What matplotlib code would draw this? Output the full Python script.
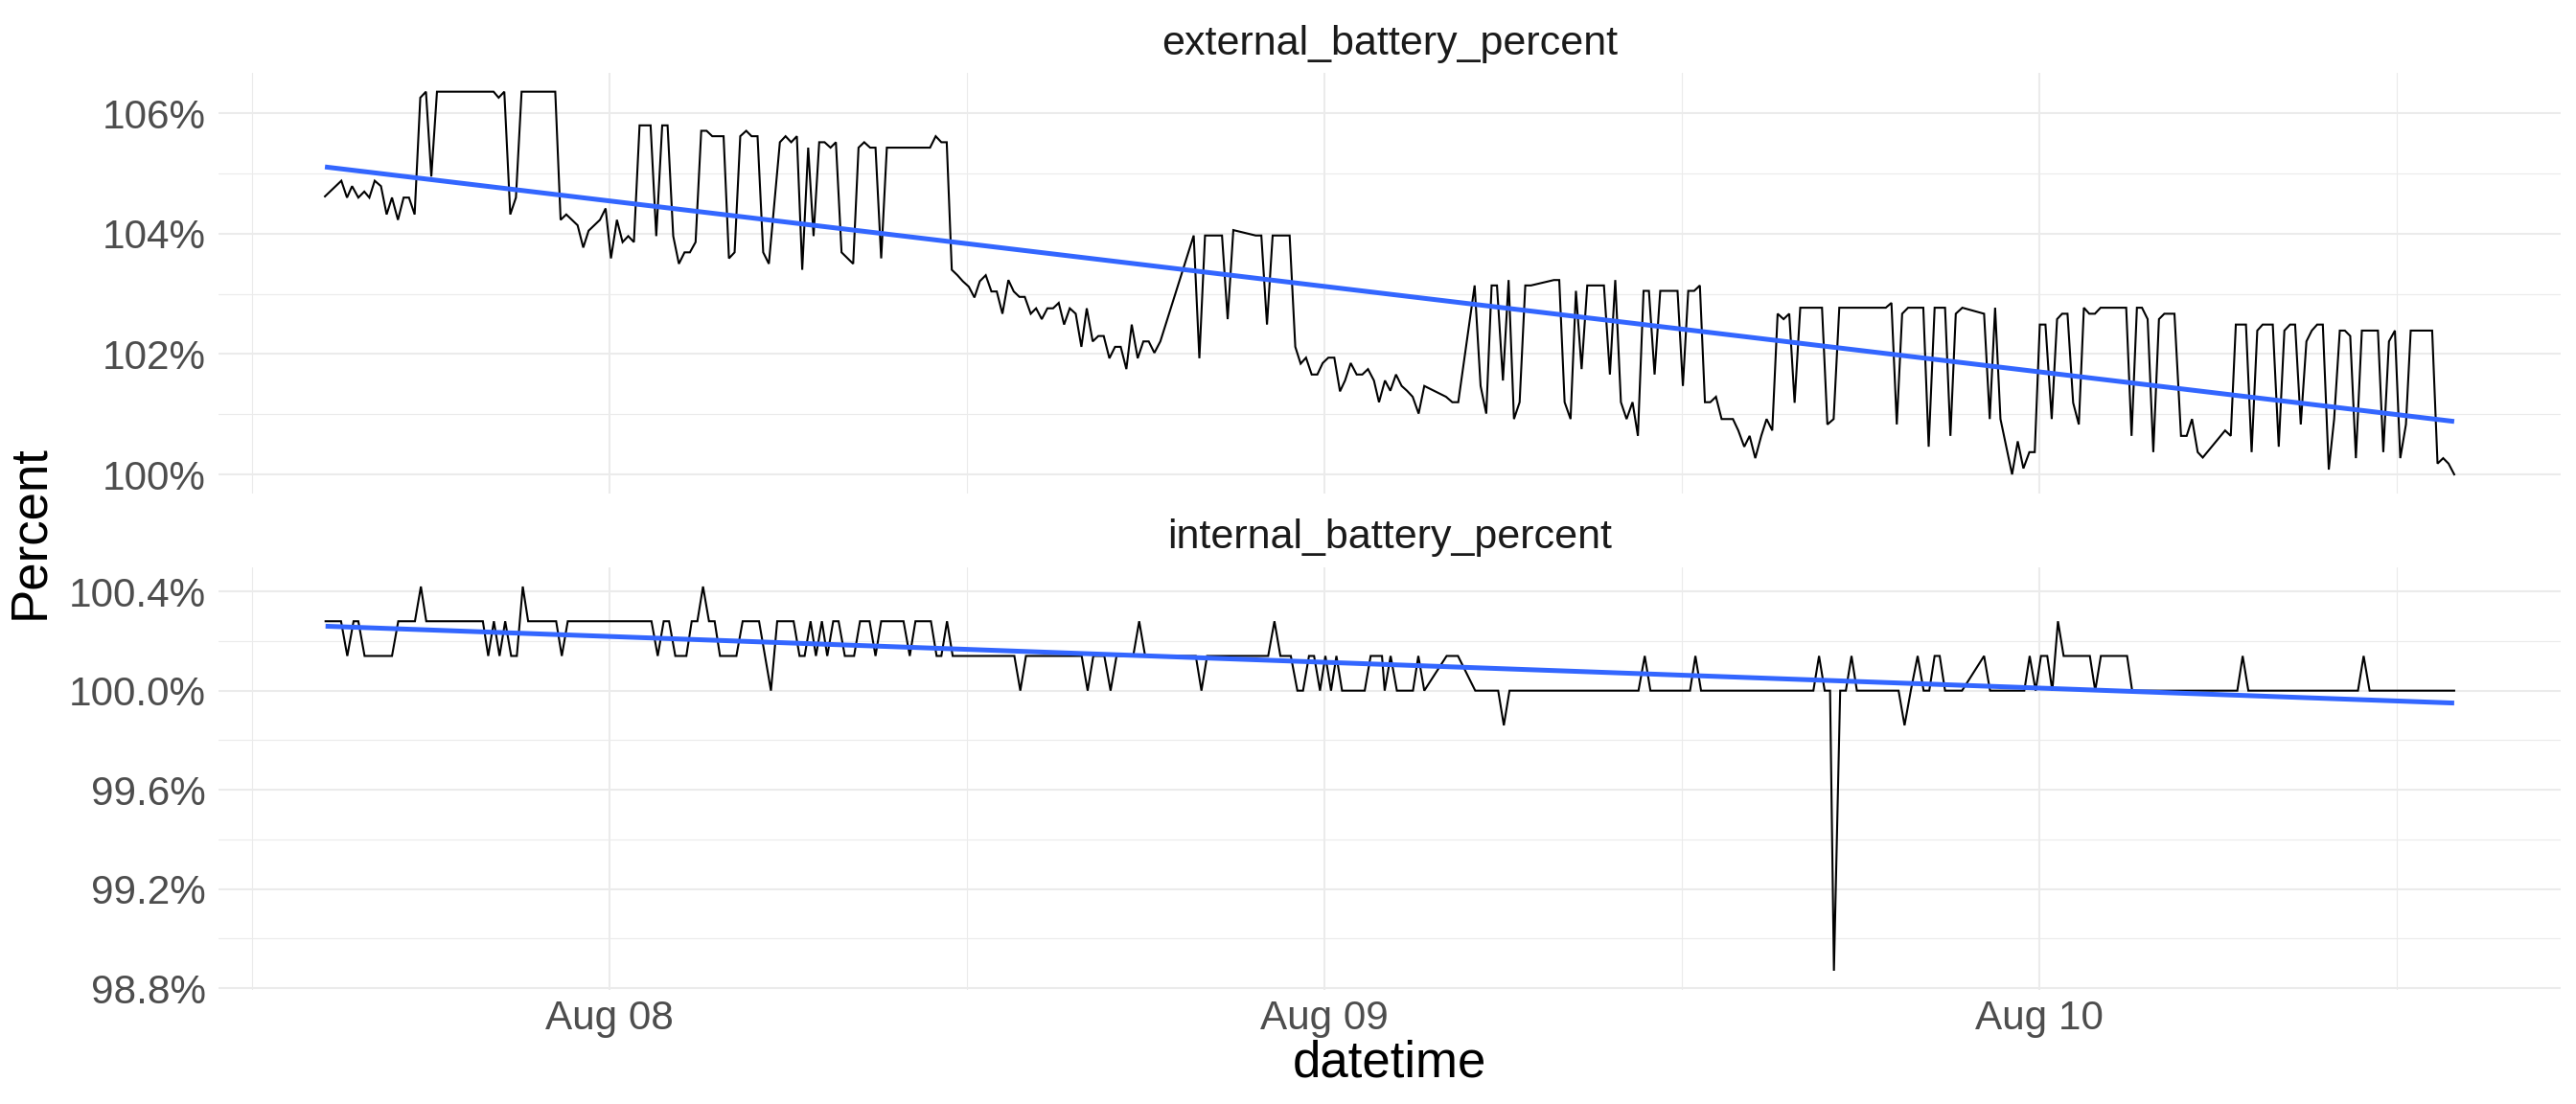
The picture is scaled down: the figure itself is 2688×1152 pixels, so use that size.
import numpy as np
import pandas as pd
import matplotlib
matplotlib.use("Agg")
import matplotlib.pyplot as plt
import matplotlib.dates as mdates
from matplotlib.ticker import FixedLocator, FuncFormatter

plt.rcParams['font.family'] = ['Liberation Sans', 'DejaVu Sans']

BASE = pd.Timestamp("2023-08-08 00:00")

# ---------------- data (hours since Aug 08 00:00, percent) ----------------
ext_hours = [
    -9.55, -9.00, -8.81, -8.64, -8.43, -8.23, -8.06, -7.88, -7.67, -7.48, -7.30, -7.10,
    -6.91, -6.73, -6.54, -6.35, -6.16, -5.98, -5.79, -3.89, -3.72, -3.53, -3.33, -3.14,
    -2.95, -1.82, -1.64, -1.45, -1.26, -1.07, -0.88, -0.70, -0.51, -0.32, -0.13, 0.05,
    0.25, 0.44, 0.63, 0.82, 1.01, 1.38, 1.57, 1.77, 1.95, 2.14, 2.33, 2.52, 2.70, 2.89,
    3.08, 3.26, 3.45, 3.83, 4.01, 4.20, 4.39, 4.59, 4.77, 4.97, 5.16, 5.35, 5.72, 5.91,
    6.10, 6.29, 6.47, 6.67, 6.85, 7.04, 7.22, 7.42, 7.60, 7.79, 8.18, 8.36, 8.55, 8.75,
    8.93, 9.12, 9.31, 10.76, 10.95, 11.14, 11.32, 11.49, 11.68, 11.86, 12.06, 12.25,
    12.43, 12.63, 12.82, 13.00, 13.19, 13.39, 13.57, 13.76, 13.94, 14.14, 14.32, 14.51,
    14.70, 14.89, 15.08, 15.26, 15.45, 15.65, 15.84, 16.02, 16.22, 16.41, 16.59, 16.78,
    16.97, 17.16, 17.35, 17.53, 17.73, 17.92, 18.10, 18.29, 18.49, 19.61, 19.80, 19.99,
    20.56, 20.75, 20.94, 21.69, 21.88, 22.07, 22.26, 22.83, 23.02, 23.20, 23.38, 23.57,
    23.76, 23.94, 24.13, 24.33, 24.52, 24.69, 24.88, 25.08, 25.27, 25.46, 25.66, 25.83,
    26.03, 26.21, 26.40, 26.59, 26.77, 26.96, 27.16, 27.35, 28.08, 28.29, 28.49, 29.04,
    29.24, 29.43, 29.61, 29.79, 29.99, 30.18, 30.36, 30.55, 30.74, 30.93, 31.70, 31.88,
    32.06, 32.26, 32.44, 32.63, 32.82, 33.38, 33.58, 33.76, 33.95, 34.14, 34.34, 34.52,
    34.71, 34.89, 35.08, 35.27, 35.85, 36.03, 36.21, 36.41, 36.60, 36.77, 36.95, 37.14,
    37.33, 37.71, 37.89, 38.09, 38.27, 38.46, 38.66, 38.84, 39.03, 39.21, 39.41, 39.60,
    39.78, 39.97, 40.70, 40.88, 41.09, 41.28, 42.84, 43.03, 43.21, 43.39, 43.59, 44.10,
    44.28, 44.48, 44.83, 45.01, 45.19, 45.41, 46.14, 46.33, 46.51, 46.69, 47.08, 47.27,
    47.46, 47.66, 47.84, 48.01, 48.20, 48.41, 48.59, 48.76, 48.94, 49.13, 49.32, 49.49,
    49.67, 49.86, 50.05, 50.91, 51.09, 51.27, 51.44, 51.63, 51.82, 52.01, 52.19, 52.53,
    52.75, 52.94, 53.12, 53.31, 53.48, 54.23, 54.42, 54.59, 54.93, 55.12, 55.31, 55.49,
    55.83, 56.03, 56.22, 56.41, 56.58, 56.77, 56.96, 57.14, 57.32, 57.51, 57.71, 57.89,
    58.08, 58.25, 58.43, 58.62, 58.82, 59.36, 59.54, 59.73, 59.93, 60.11, 60.30, 60.46,
    61.18, 61.36, 61.55, 61.73, 61.92,
]
ext_values = [
    104.62, 104.88, 104.60, 104.79, 104.60, 104.70, 104.60, 104.88, 104.79, 104.32, 104.60, 104.23,
    104.60, 104.60, 104.32, 106.26, 106.36, 104.95, 106.36, 106.36, 106.26, 106.36, 104.32, 104.60,
    106.36, 106.36, 104.23, 104.32, 104.23, 104.14, 103.77, 104.05, 104.14, 104.23, 104.42, 103.59,
    104.23, 103.86, 103.96, 103.86, 105.80, 105.80, 103.96, 105.80, 105.80, 103.96, 103.50, 103.69, 103.69, 103.86,
    105.71, 105.71, 105.62, 105.62, 103.59, 103.69, 105.62, 105.71, 105.62, 105.62, 103.69, 103.50, 105.52, 105.62,
    105.52, 105.62, 103.40, 105.43, 103.96, 105.52, 105.52, 105.43, 105.52, 103.69, 103.50, 105.43, 105.52, 105.43,
    105.43, 103.59, 105.43, 105.43, 105.62, 105.52, 105.52, 103.40, 103.31, 103.21, 103.12, 102.94,
    103.21, 103.31, 103.04, 103.04, 102.67, 103.23, 103.04, 102.95, 102.95, 102.67, 102.76, 102.58,
    102.76, 102.76, 102.85, 102.49, 102.76, 102.67, 102.12, 102.76, 102.21, 102.30, 102.30, 101.93,
    102.12, 102.12, 101.75, 102.49, 101.93, 102.21, 102.21, 102.02, 102.21, 103.97, 101.93, 103.97,
    103.97, 102.58, 104.06, 103.97, 103.97, 102.49, 103.97, 103.97, 102.12, 101.84, 101.94, 101.66,
    101.66, 101.85, 101.94, 101.94, 101.38, 101.56, 101.85, 101.66, 101.66, 101.75, 101.56, 101.20,
    101.56, 101.39, 101.66, 101.47, 101.39, 101.29, 101.01, 101.47, 101.29, 101.20, 101.20, 103.14,
    101.47, 101.01, 103.14, 103.14, 101.56, 103.23, 100.92, 101.20, 103.14, 103.14, 103.23, 103.23,
    101.20, 100.92, 103.05, 101.75, 103.14, 103.14, 101.66, 103.23, 101.20, 100.92, 101.20, 100.64,
    103.05, 103.05, 101.66, 103.05, 103.05, 101.47, 103.05, 103.05, 103.14, 101.20, 101.20, 101.29,
    100.92, 100.92, 100.73, 100.46, 100.64, 100.27, 100.64, 100.92, 100.73, 102.67, 102.58, 102.67,
    101.19, 102.77, 102.77, 100.83, 100.92, 102.77, 102.77, 102.85, 100.83, 102.67, 102.77, 102.77,
    100.46, 102.77, 102.77, 100.64, 102.67, 102.77, 102.67, 100.92, 102.77, 100.92, 100.00, 100.55,
    100.10, 100.37, 100.37, 102.49, 102.49, 100.92, 102.58, 102.67, 102.67, 101.19, 100.83, 102.77,
    102.67, 102.67, 102.77, 102.77, 100.64, 102.77, 102.77, 102.58, 100.37, 102.58, 102.67, 102.67,
    100.64, 100.64, 100.92, 100.37, 100.28, 100.73, 100.64, 102.49, 102.49, 100.37, 102.39, 102.49,
    102.49, 100.46, 102.39, 102.49, 102.49, 100.83, 102.21, 102.39, 102.49, 102.49, 100.08, 100.92,
    102.39, 102.39, 102.30, 100.27, 102.39, 102.39, 100.37, 102.21, 102.39, 100.27, 100.83, 102.39,
    102.39, 100.18, 100.27, 100.18, 100.00,
]

int_hours = [
    -9.53, -9.01, -8.80, -8.59, -8.43, -8.22, -7.30, -7.09, -6.53, -6.33, -6.15, -4.25,
    -4.07, -3.88, -3.69, -3.50, -3.30, -3.11, -2.91, -2.73, -1.79, -1.60, -1.40, 1.41,
    1.62, 1.82, 2.00, 2.21, 2.58, 2.76, 2.95, 3.14, 3.34, 3.53, 3.71, 4.26, 4.47, 5.02,
    5.22, 5.42, 5.63, 6.18, 6.38, 6.55, 6.75, 6.93, 7.13, 7.31, 7.51, 7.69, 7.90, 8.21,
    8.41, 8.73, 8.93, 9.12, 9.87, 10.08, 10.27, 10.79, 10.98, 11.14, 11.33, 11.52, 13.59,
    13.79, 13.98, 15.85, 16.05, 16.24, 16.61, 16.82, 17.02, 17.58, 17.78, 17.98, 19.68,
    19.87, 20.06, 22.11, 22.32, 22.52, 22.87, 23.09, 23.28, 23.48, 23.65, 23.85, 24.03,
    24.22, 24.40, 24.59, 25.35, 25.55, 25.93, 26.02, 26.22, 26.43, 26.97, 27.15, 27.35,
    28.10, 28.48, 29.06, 29.83, 30.02, 30.21, 34.54, 34.75, 34.94, 36.27, 36.45, 36.64,
    40.41, 40.60, 40.79, 40.97, 41.10, 41.31, 41.50, 41.69, 41.87, 43.27, 43.47, 43.68,
    43.91, 44.11, 44.30, 44.48, 44.65, 44.83, 45.40, 46.14, 46.34, 47.49, 47.67, 47.87,
    48.05, 48.26, 48.43, 48.62, 48.81, 49.69, 49.87, 50.06, 50.94, 51.11, 54.64, 54.82,
    55.01, 58.69, 58.88, 59.08, 61.92,
]
int_values = [
    100.28, 100.28, 100.14, 100.28, 100.28, 100.14, 100.14, 100.28, 100.28, 100.42, 100.28, 100.28,
    100.14, 100.28, 100.14, 100.28, 100.14, 100.14, 100.42, 100.28, 100.28, 100.14, 100.28, 100.28,
    100.14, 100.28, 100.28, 100.14, 100.14, 100.28, 100.28, 100.42, 100.28, 100.28, 100.14, 100.14, 100.28, 100.28,
    100.14, 100.00, 100.28, 100.28, 100.14, 100.14, 100.28, 100.14, 100.28, 100.14, 100.28, 100.28, 100.14, 100.14,
    100.28, 100.28, 100.14, 100.28, 100.28, 100.14, 100.28, 100.28, 100.14, 100.14, 100.28, 100.14, 100.14,
    100.00, 100.14, 100.14, 100.00, 100.14, 100.14, 100.00, 100.14, 100.14, 100.28, 100.14, 100.14,
    100.00, 100.14, 100.14, 100.28, 100.14, 100.14, 100.00, 100.00, 100.14, 100.14, 100.00, 100.14,
    100.00, 100.14, 100.00, 100.00, 100.14, 100.14, 100.00, 100.14, 100.00, 100.00, 100.14, 100.00,
    100.14, 100.14, 100.00, 100.00, 99.86, 100.00, 100.00, 100.14, 100.00, 100.00, 100.14, 100.00,
    100.00, 100.14, 100.00, 100.00, 98.87, 100.00, 100.00, 100.14, 100.00, 100.00, 99.86, 100.00,
    100.14, 100.00, 100.00, 100.14, 100.14, 100.00, 100.00, 100.14, 100.00, 100.00, 100.14, 100.00,
    100.14, 100.14, 100.00, 100.28, 100.14, 100.14, 100.00, 100.14, 100.14, 100.00, 100.00, 100.14,
    100.00, 100.00, 100.14, 100.00, 100.00,
]

# linear trend (geom_smooth lm) read at first/last timestamp
ext_trend = [105.11, 100.88]
int_trend = [100.26, 99.95]

panel_titles = ["external_battery_percent", "internal_battery_percent"]
ext_yticks = [100, 102, 104, 106]
ext_yminor = [101, 103, 105]
int_yticks = [98.8, 99.2, 99.6, 100.0, 100.4]
int_yminor = [99.0, 99.4, 99.8, 100.2]
x_major = ["2023-08-08", "2023-08-09", "2023-08-10"]
x_minor = ["2023-08-07 12:00", "2023-08-08 12:00", "2023-08-09 12:00", "2023-08-10 12:00"]
x_tick_labels = ["Aug 08", "Aug 09", "Aug 10"]

# ---------------- drawing ----------------
def to_num(hours):
    return mdates.date2num(BASE + pd.to_timedelta(np.asarray(hours), unit="h"))

W, H = 2688, 1152
fig = plt.figure(figsize=(13.44, 5.76), dpi=200)
fig.patch.set_facecolor("white")

left, right = 228 / W, 2672 / W
ax1 = fig.add_axes([left, 1 - 515 / H, right - left, (515 - 75.7) / H])
ax2 = fig.add_axes([left, 1 - 1033 / H, right - left, (1033 - 592) / H])

xs_all = np.concatenate([to_num(ext_hours), to_num(int_hours)])
xmin, xmax = xs_all.min(), xs_all.max()
xpad = 0.05 * (xmax - xmin)

GRID = "#EBEBEB"
panels = [
    (ax1, ext_hours, ext_values, ext_trend, ext_yticks, ext_yminor, lambda v, p: f"{v:.0f}%"),
    (ax2, int_hours, int_values, int_trend, int_yticks, int_yminor, lambda v, p: f"{v:.1f}%"),
]
for ax, hrs, vals, trend, yt, ym, fmt in panels:
    x = to_num(hrs)
    ax.plot(x, vals, color="black", lw=0.75, solid_joinstyle="miter", zorder=3)
    ax.plot([x.min(), x.max()], trend, color="#3366FF", lw=1.8, zorder=4,
            solid_capstyle="butt")
    ymin, ymax = min(min(vals), min(trend)), max(max(vals), max(trend))
    ypad = 0.05 * (ymax - ymin)
    ax.set_ylim(ymin - ypad, ymax + ypad)
    ax.set_xlim(xmin - xpad, xmax + xpad)
    ax.yaxis.set_major_locator(FixedLocator(yt))
    ax.yaxis.set_minor_locator(FixedLocator(ym))
    ax.yaxis.set_major_formatter(FuncFormatter(fmt))
    ax.xaxis.set_major_locator(FixedLocator(mdates.date2num(pd.to_datetime(x_major))))
    ax.xaxis.set_minor_locator(FixedLocator(mdates.date2num(pd.to_datetime(x_minor))))
    ax.grid(which="major", color=GRID, lw=0.75, zorder=0)
    ax.grid(which="minor", color=GRID, lw=0.4, zorder=0)
    ax.set_axisbelow(True)
    for s in ax.spines.values():
        s.set_visible(False)
    ax.tick_params(which="both", length=0)
    ax.tick_params(axis="y", labelsize=15.2, labelcolor="#4D4D4D", pad=4.7)
    ax.tick_params(axis="x", labelsize=15.2, labelcolor="#4D4D4D", pad=3.6)
    ax.set_facecolor("white")

ax1.set_xticklabels([])
ax2.set_xticklabels(x_tick_labels)

cx = (left + right) / 2
fig.text(cx, 1 - 46 / H, panel_titles[0], ha="center", va="center", fontsize=15.5, color="#1A1A1A")
fig.text(cx, 1 - 561 / H, panel_titles[1], ha="center", va="center", fontsize=15.5, color="#1A1A1A")
fig.text(cx, 1 - 1109 / H, "datetime", ha="center", va="center", fontsize=19, color="black")
fig.text(31 / W, 1 - 555 / H, "Percent", ha="center", va="center", rotation=90, fontsize=19, color="black")

fig.savefig("out.png", dpi=200, facecolor="white")
